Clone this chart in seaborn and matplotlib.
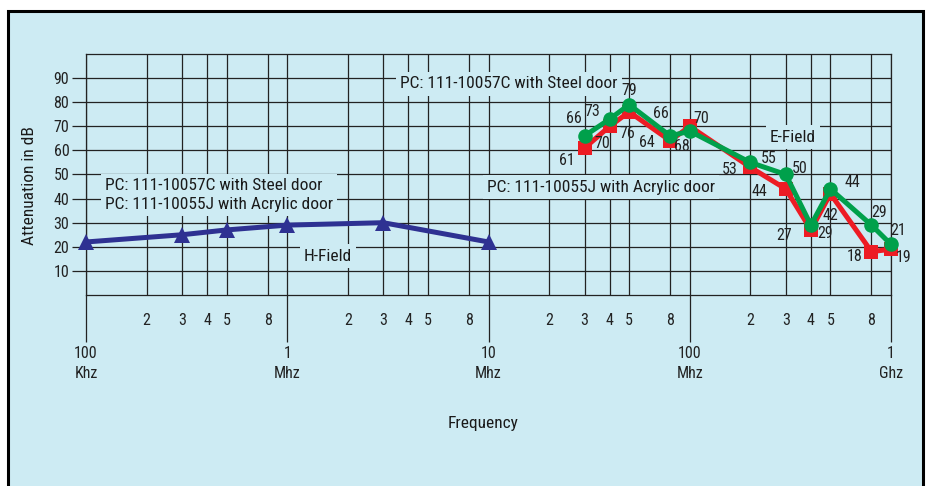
import numpy as np
import pandas as pd
import matplotlib
matplotlib.use("Agg")
import matplotlib.pyplot as plt
import seaborn as sns
from matplotlib import font_manager
from matplotlib.patches import Rectangle
from matplotlib.ticker import FixedLocator, FixedFormatter

# ---------------- data ----------------
h_freq = [1e5, 3e5, 5e5, 1e6, 3e6, 1e7]
h_atten = [22, 25, 27, 29, 30, 22]

e_freq = [3e7, 4e7, 5e7, 8e7, 1e8, 2e8, 3e8, 4e8, 5e8, 8e8, 1e9]
steel_atten = [66, 73, 79, 66, 68, 55, 50, 29, 44, 29, 21]
acrylic_atten = [61, 70, 76, 64, 70, 53, 44, 27, 42, 18, 19]

decades = [1e5, 1e6, 1e7, 1e8, 1e9]
decade_labels = ["100\nKhz", "1\nMhz", "10\nMhz", "100\nMhz", "1\nGhz"]
minor_mult = [2, 3, 4, 5, 8]
y_ticks = [10, 20, 30, 40, 50, 60, 70, 80, 90]

# label offsets in pixels (dx, dy with dy downward)
steel_off = [(-11, -17), (-17, -8), (0, -14), (-9, -22), (-8, 15), (18, -4),
             (14, -6), (14, 8), (22, -6), (8, -13), (7, -14)]
acrylic_off = [(-18, 13), (-7, 17), (-2, 22), (-23, 2), (11, -8), (-21, 2),
               (-26, 3), (-27, 6), (0, 22), (-17, 5), (13, 8)]

# ---------------- style ----------------
BG = "#CDEBF3"
NAVY = "#2E3192"
RED = "#ED1C24"
GREEN = "#00A04B"
GRID = "#222222"

sns.set_theme(style="white")
available = {f.name for f in font_manager.fontManager.ttflist}
fams = [f for f in ["Liberation Sans Narrow", "Roboto Condensed", "Liberation Sans", "DejaVu Sans"] if f in available]
narrow = fams[0] in ("Liberation Sans Narrow", "Roboto Condensed")
plt.rcParams["font.family"] = fams + ["DejaVu Sans"]
FS = 12.5 if narrow else 10.5
TFS = 11.5 if narrow else 9.5

W, H = 930, 486
fig = plt.figure(figsize=(W / 100, H / 100), dpi=100, facecolor="white")


def fx(x):
    return x / W


def fy(y):
    return 1 - y / H


# background frame
fig.patches.append(Rectangle((fx(7.5), -0.05), fx(922.5) - fx(7.5), fy(10.5) + 0.05,
                             transform=fig.transFigure, facecolor=BG,
                             edgecolor="black", linewidth=2.2, zorder=-5))

L, R, T, B = 86, 891, 54, 295
ax = fig.add_axes([fx(L), fy(B), fx(R) - fx(L), fy(T) - fy(B)])
ax.set_zorder(2)
ax.set_facecolor(BG)
ax.patch.set_alpha(0)

ax.set_xscale("log")
ax.set_xlim(1e5, 1e9)
ax.set_ylim(0, 100)

minor_pos = [m * d for d in decades[:-1] for m in minor_mult]
minor_lab = [str(m) for d in decades[:-1] for m in minor_mult]
ax.xaxis.set_major_locator(FixedLocator(decades))
ax.xaxis.set_major_formatter(FixedFormatter(decade_labels))
ax.xaxis.set_minor_locator(FixedLocator(minor_pos))
ax.xaxis.set_minor_formatter(FixedFormatter(minor_lab))
ax.set_yticks(y_ticks)
ax.set_yticklabels([str(v) for v in y_ticks])

ax.tick_params(axis="x", which="major", direction="out", length=34, width=0.9,
               color=GRID, pad=3, labelsize=TFS, labelcolor="#222222")
ax.tick_params(axis="x", which="minor", length=0, pad=13, labelsize=TFS,
               labelcolor="#222222")
ax.tick_params(axis="y", which="major", direction="out", length=10, width=0.9,
               color=GRID, pad=2, labelsize=TFS, labelcolor="#222222")
ax.tick_params(left=True, bottom=True)
for lab in ax.get_xticklabels(which="major"):
    lab.set_linespacing(1.35)

ax.grid(True, which="both", axis="x", color=GRID, linewidth=0.9, zorder=1)
ax.grid(True, which="major", axis="y", color=GRID, linewidth=0.9, zorder=1)
ax.set_axisbelow(True)
for s in ax.spines.values():
    s.set_color(GRID)
    s.set_linewidth(0.9)

# ---------------- series ----------------
sns.lineplot(x=h_freq, y=h_atten, ax=ax, color=NAVY, linewidth=3.6, marker="^",
             markersize=11, markeredgewidth=0, zorder=5, sort=False, clip_on=False)
sns.lineplot(x=e_freq, y=acrylic_atten, ax=ax, color=RED, linewidth=3.6, marker="s",
             markersize=10, markeredgewidth=0, zorder=5, sort=False, clip_on=False)
sns.lineplot(x=e_freq, y=steel_atten, ax=ax, color=GREEN, linewidth=3.6, marker="o",
             markersize=10.5, markeredgewidth=0, zorder=6, sort=False, clip_on=False)
ax.set_xlabel("")
ax.set_ylabel("")

for xv, yv, (dx, dy) in zip(e_freq, steel_atten, steel_off):
    ax.annotate(str(yv), (xv, yv), xytext=(dx, -dy), textcoords="offset pixels",
                ha="center", va="center", fontsize=TFS, color="#222222", zorder=7)
for xv, yv, (dx, dy) in zip(e_freq, acrylic_atten, acrylic_off):
    ax.annotate(str(yv), (xv, yv), xytext=(dx, -dy), textcoords="offset pixels",
                ha="center", va="center", fontsize=TFS, color="#222222", zorder=7)

# ---------------- labels ----------------
box = dict(facecolor=BG, edgecolor="none", pad=3)


def label(x, y, s, ha="center", **kw):
    ax.text(fx(x), fy(y), s, transform=fig.transFigure, ha=ha, va="center",
            fontsize=FS, color="#1a1a1a", bbox=box, zorder=3, **kw)


label(509, 84, "PC: 111-10057C with Steel door")
label(105, 195, "PC: 111-10057C with Steel door\nPC: 111-10055J with Acrylic door",
      ha="left", linespacing=1.25)
label(328, 256, "H-Field")
label(793, 137, "E-Field")
label(601, 187, "PC: 111-10055J with Acrylic door")

fig.text(fx(483), fy(423), "Frequency", ha="center", va="center", fontsize=FS,
         color="#1a1a1a")
fig.text(fx(30), fy(186), "Attenuation in dB", ha="center", va="center",
         rotation=90, fontsize=FS, color="#1a1a1a")

fig.savefig("out.png", dpi=100, facecolor="white")
